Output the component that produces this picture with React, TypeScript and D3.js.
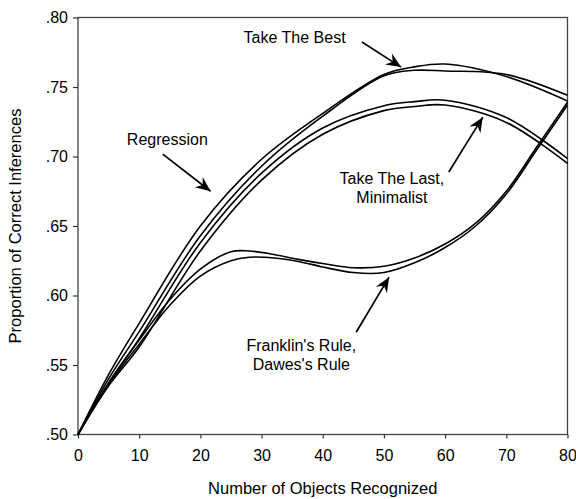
import { useRef, useEffect, useMemo } from 'react';
import * as d3 from 'd3';

// number of recognized objects (x grids)
const coarseCounts = [0, 5, 10, 20, 30, 40, 50, 55, 60, 70, 80];
const fineCounts = [0, 5, 10, 15, 20, 25, 28, 32, 36, 40, 45, 50, 55, 60, 65, 70, 75, 80];

// proportion of correct inferences
const regression = [0.5, 0.543, 0.58, 0.65, 0.698, 0.731, 0.759, 0.7645, 0.7665, 0.7575, 0.74];
const takeTheBest = [0.5, 0.54, 0.574, 0.643, 0.693, 0.729, 0.758, 0.762, 0.7615, 0.759, 0.744];
const takeTheLast = [0.5, 0.537, 0.569, 0.638, 0.688, 0.7205, 0.7365, 0.7395, 0.7405, 0.728, 0.6985];
const minimalist = [0.5, 0.535, 0.563, 0.632, 0.683, 0.716, 0.733, 0.736, 0.737, 0.7245, 0.695];
const franklin = [0.5, 0.537, 0.568, 0.597, 0.619, 0.6315, 0.632, 0.6295, 0.626, 0.623, 0.62, 0.621, 0.627, 0.637, 0.652, 0.675, 0.707, 0.739];
const dawes = [0.5, 0.536, 0.565, 0.593, 0.614, 0.625, 0.6275, 0.627, 0.6245, 0.6205, 0.6165, 0.6165, 0.6235, 0.6345, 0.65, 0.673, 0.705, 0.737];

const xTicks = [0, 10, 20, 30, 40, 50, 60, 70, 80];
const yTicks = [0.5, 0.55, 0.6, 0.65, 0.7, 0.75, 0.8];

// annotation text (data coords: objects, proportion)
const labels = [
  { lines: ['Take The Best'], x: 35.4, y: 0.7816 },
  { lines: ['Regression'], x: 14.6, y: 0.7082 },
  { lines: ['Take The Last,', 'Minimalist'], x: 51.3, y: 0.68 },
  { lines: ["Franklin's Rule,", "Dawes's Rule"], x: 36.5, y: 0.5599 },
];
// arrows: from -> to
const arrows = [
  { x1: 46.4, y1: 0.7824, x2: 52.8, y2: 0.7643 },
  { x1: 13.85, y1: 0.7017, x2: 21.67, y2: 0.675 },
  { x1: 60.6, y1: 0.6888, x2: 66.15, y2: 0.7283 },
  { x1: 45.46, y1: 0.5736, x2: 50.84, y2: 0.6132 },
];

const font = '"Liberation Sans", Arial, Helvetica, sans-serif';

export default function App() {
  const width = 576;
  const height = 499;
  const margin = { top: 17.5, right: 8.5, bottom: 64.5, left: 78 };
  const innerWidth = width - margin.left - margin.right;
  const innerHeight = height - margin.top - margin.bottom;

  const gx = useRef<SVGGElement>(null);
  const gy = useRef<SVGGElement>(null);

  const x = useMemo(() => d3.scaleLinear().domain([0, 80]).range([0, innerWidth]), [innerWidth]);
  const y = useMemo(() => d3.scaleLinear().domain([0.5, 0.8]).range([innerHeight, 0]), [innerHeight]);

  const line = d3
    .line<[number, number]>()
    .x((d) => x(d[0]))
    .y((d) => y(d[1]))
    .curve(d3.curveCatmullRom.alpha(0.5));

  const series = [
    coarseCounts.map((c, i) => [c, regression[i]] as [number, number]),
    coarseCounts.map((c, i) => [c, takeTheBest[i]] as [number, number]),
    coarseCounts.map((c, i) => [c, takeTheLast[i]] as [number, number]),
    coarseCounts.map((c, i) => [c, minimalist[i]] as [number, number]),
    fineCounts.map((c, i) => [c, franklin[i]] as [number, number]),
    fineCounts.map((c, i) => [c, dawes[i]] as [number, number]),
  ];

  useEffect(() => {
    const el = gx.current;
    if (!el) return;
    const g = d3.select(el);
    g.call(d3.axisBottom(x).tickValues(xTicks).tickSize(4).tickSizeOuter(0).tickPadding(11));
    g.select('.domain').remove();
    g.selectAll('line').attr('stroke', '#333').attr('stroke-width', 1.2);
    g.selectAll('text')
      .attr('fill', '#000')
      .style('font-family', font)
      .style('font-size', '16px');
    return () => {
      g.selectAll('*').remove();
    };
  }, [x]);

  useEffect(() => {
    const el = gy.current;
    if (!el) return;
    const g = d3.select(el);
    g.call(
      d3
        .axisLeft(y)
        .tickValues(yTicks)
        .tickSize(5)
        .tickSizeOuter(0)
        .tickPadding(5)
        .tickFormat((d) => d3.format('.2f')(d as number).replace(/^0/, '')),
    );
    g.select('.domain').remove();
    g.selectAll('line').attr('stroke', '#333').attr('stroke-width', 1.2);
    g.selectAll('text')
      .attr('fill', '#000')
      .style('font-family', font)
      .style('font-size', '16px');
    return () => {
      g.selectAll('*').remove();
    };
  }, [y]);

  return (
    <svg
      width={width}
      height={height}
      style={{ position: 'absolute', left: 0, top: 0, background: '#fff' }}
    >
      <defs>
        <marker
          id="arrowhead"
          viewBox="-16 -8 18 16"
          markerWidth={18}
          markerHeight={16}
          refX={0}
          refY={0}
          markerUnits="userSpaceOnUse"
          orient="auto"
        >
          <path d="M0,0 L-15,-6.5 L-10,0 L-15,6.5 Z" fill="#000" />
        </marker>
      </defs>
      <g transform={`translate(${margin.left},${margin.top})`}>
        <rect
          x={0}
          y={0}
          width={innerWidth}
          height={innerHeight}
          fill="none"
          stroke="#444"
          strokeWidth={1.3}
        />
        <g ref={gx} transform={`translate(0,${innerHeight})`} />
        <g ref={gy} />
        {series.map((s, i) => (
          <path key={i} d={line(s)!} fill="none" stroke="#000" strokeWidth={1.6} />
        ))}
        {arrows.map((a, i) => (
          <line
            key={i}
            x1={x(a.x1)}
            y1={y(a.y1)}
            x2={x(a.x2)}
            y2={y(a.y2)}
            stroke="#000"
            strokeWidth={1.7}
            markerEnd="url(#arrowhead)"
          />
        ))}
        {labels.map((l, i) => (
          <text
            key={i}
            x={x(l.x)}
            y={y(l.y)}
            textAnchor="middle"
            fontFamily={font}
            fontSize={16}
            fill="#000"
          >
            {l.lines.map((t, j) => (
              <tspan key={j} x={x(l.x)} dy={j === 0 ? 0 : 19}>
                {t}
              </tspan>
            ))}
          </text>
        ))}
        <text
          x={innerWidth / 2}
          y={innerHeight + 59}
          textAnchor="middle"
          fontFamily={font}
          fontSize={16.5}
          fill="#000"
        >
          Number of Objects Recognized
        </text>
        <text
          transform={`translate(${-57},${innerHeight / 2}) rotate(-90)`}
          textAnchor="middle"
          fontFamily={font}
          fontSize={16.5}
          fill="#000"
        >
          Proportion of Correct Inferences
        </text>
      </g>
    </svg>
  );
}
